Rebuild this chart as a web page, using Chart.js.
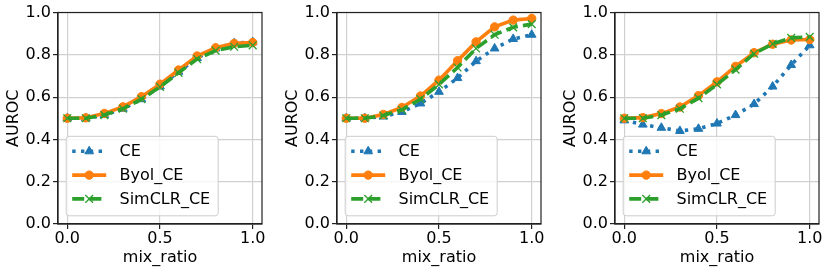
<!DOCTYPE html>
<html>
<head>
<meta charset="utf-8">
<script src="https://cdn.jsdelivr.net/npm/chart.js@4.4.1/dist/chart.umd.min.js"></script>
<style>
    body { margin: 0; background: #fff; width: 830px; height: 273px; position: relative; overflow: hidden; }
    .panel { position: absolute; top: 0; width: 272px; height: 273px; }
</style>
</head>
<body>
<div class="panel" style="left:0px"><canvas id="chart1" width="272" height="273"></canvas></div>
<div class="panel" style="left:279px"><canvas id="chart2" width="272" height="273"></canvas></div>
<div class="panel" style="left:557px"><canvas id="chart3" width="272" height="273"></canvas></div>

<script>
// DATA
const mixRatio = [0.0, 0.1, 0.2, 0.3, 0.4, 0.5, 0.6, 0.7, 0.8, 0.9, 1.0];
const xTicks = [0.0, 0.5, 1.0];
const yTicks = [0.0, 0.2, 0.4, 0.6, 0.8, 1.0];
const seriesNames = ['CE', 'Byol_CE', 'SimCLR_CE'];

// left panel
const ce1 = [0.50, 0.50, 0.515, 0.545, 0.59, 0.65, 0.72, 0.785, 0.83, 0.855, 0.86];
const byol1 = [0.50, 0.502, 0.523, 0.554, 0.602, 0.661, 0.728, 0.794, 0.833, 0.854, 0.858];
const simclr1 = [0.50, 0.50, 0.515, 0.545, 0.59, 0.648, 0.715, 0.78, 0.82, 0.838, 0.845];

// middle panel
const ce2 = [0.50, 0.50, 0.508, 0.53, 0.57, 0.625, 0.69, 0.77, 0.83, 0.875, 0.895];
const byol2 = [0.50, 0.50, 0.518, 0.551, 0.605, 0.68, 0.772, 0.861, 0.932, 0.964, 0.972];
const simclr2 = [0.50, 0.50, 0.513, 0.54, 0.59, 0.66, 0.74, 0.83, 0.895, 0.93, 0.945];

// right panel
const ce3 = [0.49, 0.47, 0.455, 0.44, 0.45, 0.475, 0.515, 0.567, 0.65, 0.752, 0.845];
const byol3 = [0.50, 0.503, 0.522, 0.553, 0.607, 0.672, 0.745, 0.81, 0.85, 0.87, 0.872];
const simclr3 = [0.50, 0.50, 0.515, 0.545, 0.595, 0.66, 0.73, 0.805, 0.852, 0.88, 0.885];

const FONT = 'DejaVu Sans';
const LINE_W = 3.6;

// style for each series (matplotlib tab colours)
const seriesStyle = [
    { color: '#1f77b4', dash: [3.4, 5.4], marker: 'triangle', radius: 5, pbw: 1 },
    { color: '#ff7f0e', dash: [], marker: 'circle', radius: 4.2, pbw: 1 },
    { color: '#2ca02c', dash: [12, 5.2], marker: 'crossRot', radius: 5.5, pbw: 1.3 }
];

function toPoints(values) {
    return values.map((v, i) => ({ x: mixRatio[i], y: v }));
}

// draw one marker, used by the legend
function drawMarker(ctx, style, x, y) {
    ctx.save();
    ctx.setLineDash([]);
    ctx.fillStyle = style.color;
    ctx.strokeStyle = style.color;
    ctx.lineWidth = style.pbw;
    const r = style.radius;
    ctx.beginPath();
    if (style.marker === 'circle') {
        ctx.arc(x, y, r, 0, Math.PI * 2);
        ctx.fill();
        ctx.stroke();
    } else if (style.marker === 'triangle') {
        ctx.moveTo(x, y - r);
        ctx.lineTo(x + r * Math.sin(Math.PI * 2 / 3), y + r / 2);
        ctx.lineTo(x - r * Math.sin(Math.PI * 2 / 3), y + r / 2);
        ctx.closePath();
        ctx.fill();
        ctx.stroke();
    } else {
        const o = r * Math.SQRT1_2;
        ctx.moveTo(x - o, y - o); ctx.lineTo(x + o, y + o);
        ctx.moveTo(x - o, y + o); ctx.lineTo(x + o, y - o);
        ctx.stroke();
    }
    ctx.restore();
}

// axes frame (top + right spines too) and the legend inside the plot
const framePlugin = {
    id: 'frameAndLegend',
    afterDatasetsDraw(chart) {
        const ctx = chart.ctx;
        const a = chart.chartArea;
        ctx.save();
        ctx.strokeStyle = '#222';
        ctx.lineWidth = 1.2;
        ctx.strokeRect(a.left, a.top, a.right - a.left, a.bottom - a.top);

        // legend box
        const bw = 152, bh = 79.5;
        const bx = a.left + 8.2;
        const by = a.bottom - 8.2 - bh;
        ctx.beginPath();
        if (ctx.roundRect) ctx.roundRect(bx, by, bw, bh, 3); else ctx.rect(bx, by, bw, bh);
        ctx.fillStyle = 'rgba(255,255,255,0.8)';
        ctx.fill();
        ctx.strokeStyle = '#cccccc';
        ctx.lineWidth = 1;
        ctx.stroke();

        ctx.font = '16px "' + FONT + '"';
        ctx.textBaseline = 'middle';
        ctx.textAlign = 'left';
        seriesNames.forEach((name, i) => {
            const st = seriesStyle[i];
            const ry = by + 15 + i * 23.8;
            ctx.save();
            ctx.strokeStyle = st.color;
            ctx.lineWidth = LINE_W;
            ctx.setLineDash(st.dash);
            ctx.beginPath();
            ctx.moveTo(bx + 6, ry);
            ctx.lineTo(bx + 40, ry);
            ctx.stroke();
            ctx.restore();
            drawMarker(ctx, st, bx + 23, ry);
            ctx.fillStyle = '#000';
            ctx.fillText(name, bx + 53.3, ry + 1);
        });
        ctx.restore();
    }
};

function makeChart(canvasId, ceData, byolData, simclrData) {
    const all = [ceData, byolData, simclrData];
    const datasets = all.map((vals, i) => {
        const st = seriesStyle[i];
        return {
            label: seriesNames[i],
            data: toPoints(vals),
            borderColor: st.color,
            backgroundColor: st.color,
            borderWidth: LINE_W,
            borderDash: st.dash,
            pointStyle: st.marker,
            pointRadius: st.radius,
            pointBorderWidth: st.pbw,
            pointBackgroundColor: st.color,
            pointBorderColor: st.color,
            tension: 0,
            order: 3 - i   // SimCLR on top like matplotlib
        };
    });

    return new Chart(document.getElementById(canvasId), {
        type: 'line',
        data: { datasets: datasets },
        options: {
            responsive: false,
            animation: false,
            events: [],
            layout: { padding: { top: 12.5, right: 10, bottom: 2, left: 0 } },
            plugins: {
                legend: { display: false },
                tooltip: { enabled: false }
            },
            scales: {
                x: {
                    type: 'linear',
                    min: -0.05,
                    max: 1.05,
                    afterBuildTicks: (scale) => { scale.ticks = xTicks.map(v => ({ value: v })); },
                    afterFit: (scale) => { scale.height = 47; },
                    ticks: {
                        autoSkip: false,
                        maxRotation: 0,
                        padding: 0,
                        color: '#000',
                        font: { family: FONT, size: 16 },
                        callback: (v) => Number(v).toFixed(1)
                    },
                    grid: { color: '#d0d0d0', lineWidth: 1.2, tickLength: 5, tickColor: '#222', tickWidth: 1.2 },
                    border: { display: true, color: '#222', width: 1.2 },
                    title: { display: true, text: 'mix_ratio', color: '#000', font: { family: FONT, size: 16 }, padding: { top: 0, bottom: 4 } }
                },
                y: {
                    min: 0,
                    max: 1,
                    afterBuildTicks: (scale) => { scale.ticks = yTicks.map(v => ({ value: v })); },
                    afterFit: (scale) => { scale.width = 58; },
                    ticks: {
                        padding: 2,
                        color: '#000',
                        font: { family: FONT, size: 16 },
                        callback: (v) => Number(v).toFixed(1)
                    },
                    grid: { color: '#d0d0d0', lineWidth: 1.2, tickLength: 5, tickColor: '#222', tickWidth: 1.2 },
                    border: { display: true, color: '#222', width: 1.2 },
                    title: { display: true, text: 'AUROC', color: '#000', font: { family: FONT, size: 16 }, padding: { top: 4, bottom: 4 } }
                }
            }
        },
        plugins: [framePlugin]
    });
}

makeChart('chart1', ce1, byol1, simclr1);
makeChart('chart2', ce2, byol2, simclr2);
makeChart('chart3', ce3, byol3, simclr3);
</script>
</body>
</html>
